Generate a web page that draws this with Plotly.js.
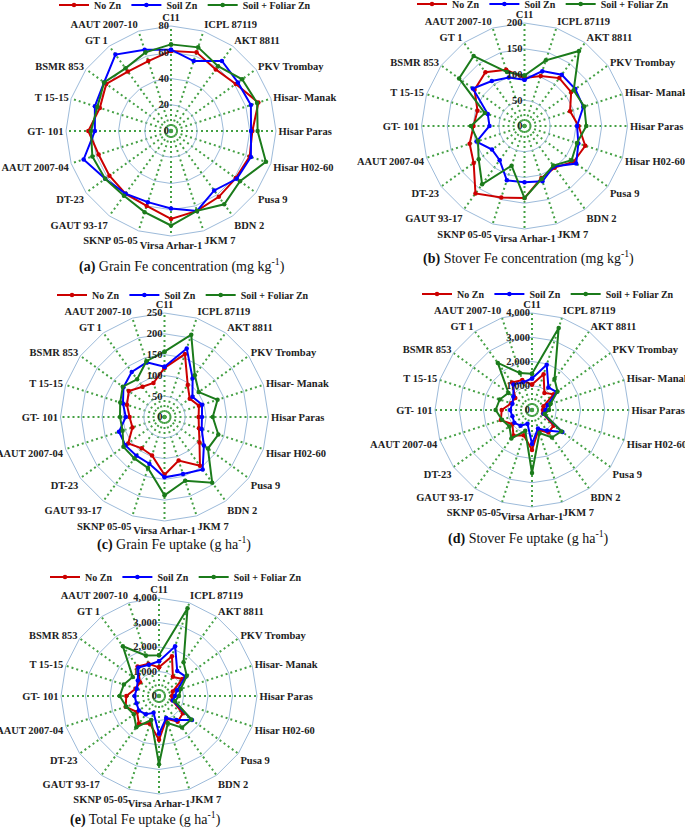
<!DOCTYPE html>
<html><head><meta charset="utf-8">
<script src="https://cdn.plot.ly/plotly-3.0.1.min.js"></script>
<style>html,body{margin:0;padding:0;background:#fff}#chart{width:685px;height:828px}</style>
</head><body><div id="chart"></div>
<script>
const categories = ['C11','ICPL 87119','AKT 8811','PKV Trombay','Hisar- Manak','Hisar Paras','Hisar H02-60','Pusa 9','BDN 2','JKM 7','Virsa Arhar-1','SKNP 05-05','GAUT 93-17','DT-23','AAUT 2007-04','GT- 101','T 15-15','BSMR 853','GT 1','AAUT 2007-10'];
const seriesNames = ['No Zn','Soil Zn','Soil + Foliar Zn'];
const seriesColors = ['#CC0000','#0000FF','#1B7B1B'];

// (a) Grain Fe concentration (mg kg-1)
const grainConc_noZn   = [61,63,58,61,70,62,63,61,62,64,67,60,59,58,58,63,57,61,56,56];
const grainConc_soilZn = [62,56,66,63,64,61,64,62,56,64,59,57,59,62,70,58,61,63,72,65];
const grainConc_foliar = [66,67,61,67,69,66,76,65,69,64,72,65,61,62,63,61,59,63,59,63];
// (b) Stover Fe concentration (mg kg-1)
const stoverConc_noZn   = [93,102,115,112,93,105,124,118,100,106,140,146,162,122,112,99,96,120,129,115];
const stoverConc_soilZn = [90,112,123,122,120,102,110,124,97,113,109,111,82,78,98,68,75,124,108,99];
const stoverConc_foliar = [98,134,180,118,122,120,107,113,95,108,140,81,140,110,95,104,81,157,168,110];
// (c) Grain Fe uptake (g ha-1)
const grainUp_noZn   = [118,159,95,75,87,82,87,104,145,110,139,97,93,108,81,84,95,106,90,86];
const grainUp_soilZn = [121,173,115,83,95,90,94,117,156,144,145,118,115,116,115,93,105,122,134,138];
const grainUp_foliar = [157,208,124,102,134,116,136,129,195,161,188,129,123,122,106,107,112,124,112,141];
// (d) Stover Fe uptake (g ha-1)
const stoverUp_noZn   = [1050,1550,870,1110,500,450,480,1100,1150,870,1650,1100,1300,1000,1350,1250,900,850,1400,1300];
const stoverUp_soilZn = [1300,1960,1150,1260,680,560,500,1550,1050,800,1400,600,800,900,850,900,850,950,1300,1200];
const stoverUp_foliar = [1500,3560,1580,1300,800,700,550,1500,1400,1000,2600,900,1450,1150,1300,1500,1400,1200,2400,1600];
// (e) Total Fe uptake (g ha-1)
const totalUp_noZn   = [1170,1710,965,1185,590,530,570,1205,1295,980,1790,1195,1395,1110,1430,1335,995,955,1490,1385];
const totalUp_soilZn = [1420,2130,1265,1345,775,650,595,1665,1205,945,1545,720,915,1015,965,995,955,1070,1435,1340];
const totalUp_foliar = [1660,3770,1705,1400,935,815,685,1630,1595,1160,2790,1030,1575,1270,1405,1605,1510,1325,2510,1740];

const W = 685, H = 828;
const serif = 'Liberation Serif, Times New Roman, serif';

const panels = [
  {id:'polar',  leg:'legend',  data:[grainConc_noZn,grainConc_soilZn,grainConc_foliar],
   cx:171, cy:131, r:105, range:[0,80], dtick:20, fmt:'', legX:185, legY:5,
   cap:'<b>(a)</b> Grain Fe concentration (mg kg<sup>-1</sup>)', capX:182, capY:265},
  {id:'polar2', leg:'legend2', data:[stoverConc_noZn,stoverConc_soilZn,stoverConc_foliar],
   cx:524.5, cy:126, r:103, range:[0,200], dtick:50, fmt:'', legX:543, legY:4,
   cap:'<b>(b)</b> Stover Fe concentration (mg kg<sup>-1</sup>)', capX:528, capY:257},
  {id:'polar3', leg:'legend3', data:[grainUp_noZn,grainUp_soilZn,grainUp_foliar],
   cx:164.5, cy:417, r:104, range:[0,250], dtick:50, fmt:'', legX:183, legY:295,
   cap:'<b>(c)</b> Grain Fe uptake (g ha<sup>-1</sup>)', capX:174, capY:543},
  {id:'polar4', leg:'legend4', data:[stoverUp_noZn,stoverUp_soilZn,stoverUp_foliar],
   cx:532, cy:410, r:97, range:[0,4000], dtick:1000, fmt:',', legX:548, legY:294,
   cap:'<b>(d)</b> Stover Fe uptake (g ha<sup>-1</sup>)', capX:528, capY:537},
  {id:'polar5', leg:'legend5', data:[totalUp_noZn,totalUp_soilZn,totalUp_foliar],
   cx:159, cy:696, r:98, range:[0,4000], dtick:1000, fmt:',', legX:176, legY:577,
   cap:'<b>(e)</b> Total Fe uptake (g ha<sup>-1</sup>)', capX:145, capY:818}
];

const traces = [];
const layout = {
  width: W, height: H,
  margin: {l:0, r:0, t:0, b:0, autoexpand:false},
  paper_bgcolor: '#fff',
  font: {family: serif, color: '#222'},
  annotations: []
};

const close = arr => arr.concat([arr[0]]);

panels.forEach(p => {
  p.data.forEach((vals, k) => {
    traces.push({
      type: 'scatterpolar',
      subplot: p.id,
      legend: p.leg,
      name: seriesNames[k],
      r: close(vals),
      theta: close(categories),
      mode: 'lines+markers',
      line: {color: seriesColors[k], width: 2},
      marker: {color: seriesColors[k], size: 4.5},
      cliponaxis: false
    });
  });
  layout[p.id] = {
    domain: {x: [(p.cx - p.r) / W, (p.cx + p.r) / W], y: [1 - (p.cy + p.r) / H, 1 - (p.cy - p.r) / H]},
    bgcolor: 'rgba(0,0,0,0)',
    gridshape: 'linear',
    angularaxis: {
      type: 'category', categoryarray: categories, rotation: 90, direction: 'clockwise',
      showline: true, linecolor: '#9DBBDA', linewidth: 1,
      showgrid: true, gridcolor: '#44A044', griddash: '2px,3px', gridwidth: 2,
      ticks: '', tickfont: {family: serif, size: 10.5, color: '#222', weight: 'bold'}
    },
    radialaxis: {
      range: p.range, dtick: p.dtick, tick0: 0, tickformat: p.fmt, angle: 90, tickangle: 90,
      showline: false, showgrid: true, gridcolor: '#9DBBDA', gridwidth: 1,
      ticks: '', side: 'counterclockwise',
      tickfont: {family: serif, size: 10.5, color: '#222', weight: 'bold'}
    }
  };
  layout[p.leg] = {
    orientation: 'h', x: p.legX / W, xanchor: 'center', y: 1 - p.legY / H, yanchor: 'middle',
    bgcolor: 'rgba(0,0,0,0)', font: {family: serif, size: 10, color: '#222', weight: 'bold'},
    itemwidth: 30, tracegroupgap: 0
  };
  layout.annotations.push({
    text: p.cap, x: p.capX / W, y: 1 - p.capY / H, xref: 'paper', yref: 'paper',
    xanchor: 'center', yanchor: 'middle', showarrow: false,
    font: {family: serif, size: 14, color: '#111'}
  });
});

Plotly.newPlot('chart', traces, layout, {displayModeBar: false, staticPlot: true});
</script></body></html>
